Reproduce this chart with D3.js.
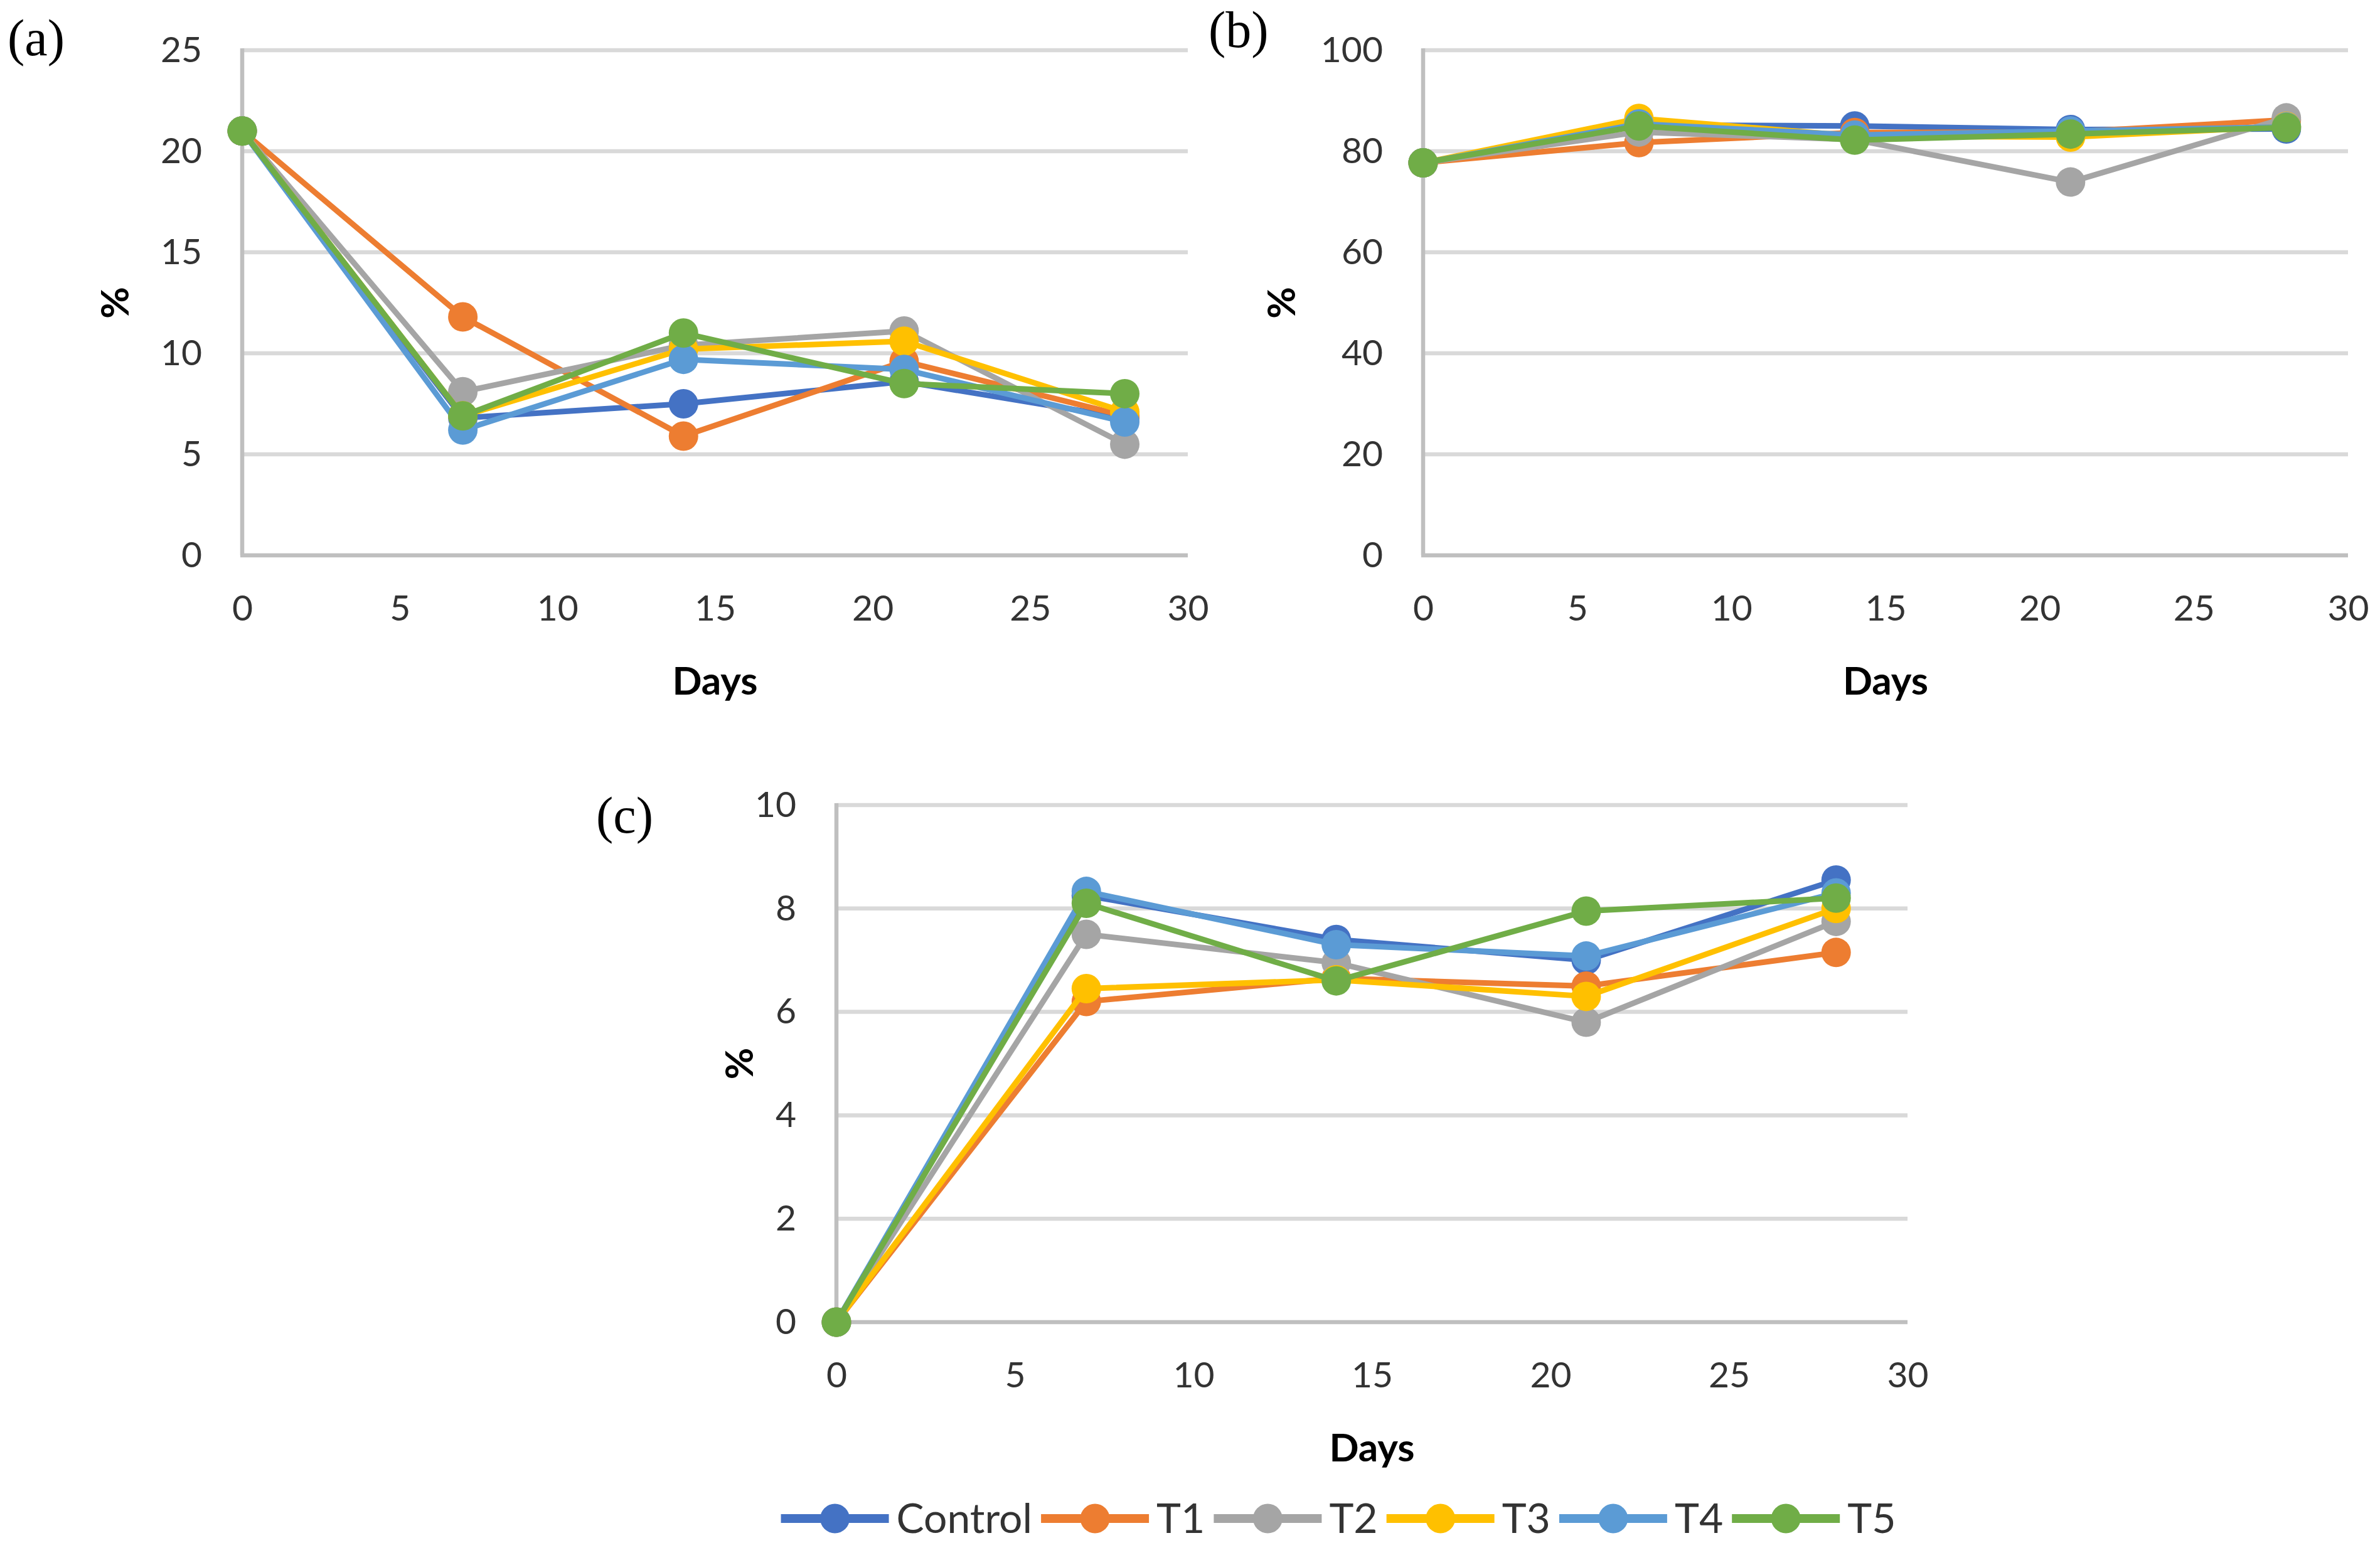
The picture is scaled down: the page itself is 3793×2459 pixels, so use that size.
<!doctype html>
<meta charset="utf-8">
<script src="https://cdn.jsdelivr.net/npm/d3@7/dist/d3.min.js"></script>
<style>body{margin:0;background:#fff}</style>
<body>
<script>

var width = 3793;
var height = 2459;

var days = [0, 7, 14, 21, 28];
var xTicks = [0, 5, 10, 15, 20, 25, 30];
var seriesNames = ["Control", "T1", "T2", "T3", "T4", "T5"];
var seriesColors = ["#4472C4", "#ED7D31", "#A5A5A5", "#FFC000", "#5B9BD5", "#70AD47"];

// panel (a)
var yTicksA = [0, 5, 10, 15, 20, 25];
var valuesA = [
    [21.0, 6.8, 7.5, 8.6, 6.8],
    [21.0, 11.8, 5.9, 9.6, 6.9],
    [21.0, 8.1, 10.4, 11.1, 5.5],
    [21.0, 6.9, 10.2, 10.6, 7.1],
    [21.0, 6.2, 9.7, 9.2, 6.6],
    [21.0, 6.9, 11.0, 8.5, 8.0]
];

// panel (b)
var yTicksB = [0, 20, 40, 60, 80, 100];
var valuesB = [
    [77.7, 85.2, 85.0, 84.3, 84.4],
    [77.7, 81.7, 83.7, 83.8, 86.2],
    [77.7, 83.8, 82.3, 73.9, 86.6],
    [77.7, 86.5, 83.0, 82.8, 84.9],
    [77.7, 85.4, 83.2, 84.0, 84.8],
    [77.7, 85.0, 82.2, 83.4, 84.7]
];

// panel (c)
var yTicksC = [0, 2, 4, 6, 8, 10];
var valuesC = [
    [0, 8.25, 7.4, 7.0, 8.55],
    [0, 6.2, 6.65, 6.5, 7.15],
    [0, 7.5, 6.95, 5.8, 7.75],
    [0, 6.45, 6.62, 6.3, 8.0],
    [0, 8.33, 7.3, 7.08, 8.3],
    [0, 8.1, 6.6, 7.95, 8.2]
];

var sans = "Lato, 'Open Sans', sans-serif";
var serif = "'Liberation Serif', 'DejaVu Serif', serif";
var textColor = "#333333";

var svg = d3.select("body")
        .append("svg")
        .attr("width", width)
        .attr("height", height);

svg.append("rect")
        .attr("width", width)
        .attr("height", height)
        .style("fill", "white");

function drawPanel(cfg) {
    var g = svg.append("g");

    var x = d3.scaleLinear().domain([0, 30]).range([cfg.x0, cfg.x1]);
    var y = d3.scaleLinear().domain([0, d3.max(cfg.yTicks)]).range([cfg.y1, cfg.y0]);

    // gridlines
    g.selectAll(".grid")
            .data(cfg.yTicks.filter(function(d) { return d > 0; }))
            .enter().append("line")
            .attr("x1", cfg.x0)
            .attr("x2", cfg.x1)
            .attr("y1", function(d) { return y(d); })
            .attr("y2", function(d) { return y(d); })
            .style("stroke", "#D9D9D9")
            .style("stroke-width", 6.5);

    // axis lines
    g.append("line")
            .attr("x1", cfg.x0 - 3).attr("x2", cfg.x1)
            .attr("y1", y(0)).attr("y2", y(0))
            .style("stroke", "#BFBFBF")
            .style("stroke-width", 6.5);
    g.append("line")
            .attr("x1", cfg.x0).attr("x2", cfg.x0)
            .attr("y1", cfg.y0 - 3).attr("y2", y(0))
            .style("stroke", "#BFBFBF")
            .style("stroke-width", 6.5);

    var yAxis = g.append("g")
            .attr("transform", "translate(" + cfg.x0 + ",0)")
            .call(d3.axisLeft(y).tickValues(cfg.yTicks).tickSize(0).tickPadding(64));
    yAxis.select(".domain").remove();
    yAxis.attr("font-family", sans).attr("font-size", 57);
    yAxis.selectAll("text").style("fill", textColor);

    var xAxis = g.append("g")
            .attr("transform", "translate(0," + cfg.y1 + ")")
            .call(d3.axisBottom(x).tickValues(xTicks).tickSize(0).tickPadding(64));
    xAxis.select(".domain").remove();
    xAxis.attr("font-family", sans).attr("font-size", 57);
    xAxis.selectAll("text").style("fill", textColor);

    // axis titles
    g.append("text")
            .attr("x", (cfg.x0 + cfg.x1) / 2)
            .attr("y", cfg.y1 + 222)
            .attr("text-anchor", "middle")
            .style("font-family", sans)
            .style("font-weight", "bold")
            .style("font-size", "62px")
            .style("fill", "#000")
            .text("Days");

    g.append("text")
            .attr("transform", "translate(" + (cfg.x0 - cfg.titleOff) + "," + ((cfg.y0 + cfg.y1) / 2) + ") rotate(-90)")
            .attr("text-anchor", "middle")
            .attr("dy", "0.36em")
            .style("font-family", sans)
            .style("font-weight", "bold")
            .style("font-size", "62px")
            .style("fill", "#000")
            .text("%");

    // panel label
    g.append("text")
            .attr("x", cfg.labelX)
            .attr("y", cfg.labelY)
            .style("font-family", serif)
            .style("font-size", "82px")
            .style("fill", "#000")
            .text(cfg.label);

    var line = d3.line()
            .x(function(d, i) { return x(days[i]); })
            .y(function(d) { return y(d); });

    cfg.values.forEach(function(vals, k) {
        var s = g.append("g");
        s.append("path")
                .datum(vals)
                .attr("d", line)
                .style("fill", "none")
                .style("stroke", seriesColors[k])
                .style("stroke-width", 9)
                .style("stroke-linejoin", "round");
        s.selectAll("circle")
                .data(vals)
                .enter().append("circle")
                .attr("cx", function(d, i) { return x(days[i]); })
                .attr("cy", function(d) { return y(d); })
                .attr("r", 23.5)
                .style("fill", seriesColors[k]);
    });
}

drawPanel({x0: 386, x1: 1893, y0: 80, y1: 885, yTicks: yTicksA, values: valuesA,
    titleOff: 203, label: "(a)", labelX: 12, labelY: 88});
drawPanel({x0: 2268, x1: 3742, y0: 80, y1: 885, yTicks: yTicksB, values: valuesB,
    titleOff: 226, label: "(b)", labelX: 1926, labelY: 75});
drawPanel({x0: 1333, x1: 3040, y0: 1283, y1: 2107, yTicks: yTicksC, values: valuesC,
    titleOff: 155, label: "(c)", labelX: 950, labelY: 1327});

// legend
var legend = svg.append("g");
var lineLen = 172, textGap = 12, itemGap = 14;
var items = legend.selectAll("g")
        .data(seriesNames)
        .enter().append("g");
items.append("text")
        .attr("y", 2443)
        .style("font-family", sans)
        .style("font-size", "66px")
        .style("fill", textColor)
        .text(function(d) { return d; });
var widths = [];
items.select("text").each(function() { widths.push(this.getComputedTextLength()); });
var total = d3.sum(widths) + seriesNames.length * (lineLen + textGap) + (seriesNames.length - 1) * itemGap;
var cursor = 2133 - total / 2;
items.each(function(d, i) {
    var it = d3.select(this);
    it.append("line")
            .attr("x1", cursor).attr("x2", cursor + lineLen)
            .attr("y1", 2420).attr("y2", 2420)
            .style("stroke", seriesColors[i])
            .style("stroke-width", 14);
    it.append("circle")
            .attr("cx", cursor + lineLen / 2)
            .attr("cy", 2420)
            .attr("r", 23.5)
            .style("fill", seriesColors[i]);
    it.select("text").attr("x", cursor + lineLen + textGap);
    cursor += lineLen + textGap + widths[i] + itemGap;
});

</script>
